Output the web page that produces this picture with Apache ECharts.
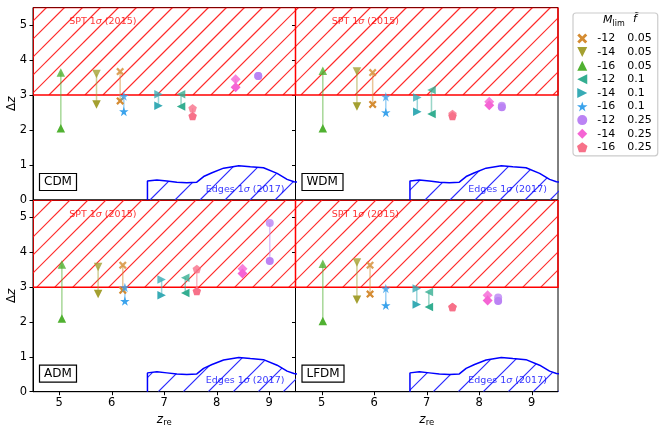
<!doctype html>
<html lang="en">
  <head>
    <meta charset="utf-8">
    <title>Delta z vs z_re</title>
    <script src="https://cdn.jsdelivr.net/npm/echarts@6/dist/echarts.min.js"></script>
    <style>
      html, body { margin: 0; padding: 0; background: #fff; }
      #chart { width: 664px; height: 429px; }
    </style>
  </head>
  <body>
    <div id="chart"></div>
  <script>

    // ---- data ----
    var panelNames = ['CDM', 'WDM', 'ADM', 'LFDM'];
    var mLim = ['-12', '-14', '-16', '-12', '-14', '-16', '-12', '-14', '-16'];
    var fTilde = ['0.05', '0.05', '0.05', '0.1', '0.1', '0.1', '0.25', '0.25', '0.25'];

    // z_re of each model, then the two Delta z values (upper / lower end)
    var zreCDM  = [6.16, 5.71, 5.03, 7.32, 6.89, 6.23, 8.79, 8.36, 7.54];
    var dzHiCDM = [3.67, 3.60, 3.64, 3.02, 3.02, 2.97, 3.54, 3.45, 2.62];
    var dzLoCDM = [2.83, 2.73, 2.05, 2.67, 2.69, 2.53, 3.54, 3.22, 2.40];

    var zreWDM  = [5.97, 5.67, 5.02, 7.09, 6.82, 6.22, 8.43, 8.19, 7.49];
    var dzHiWDM = [3.64, 3.67, 3.69, 3.14, 2.93, 2.95, 2.69, 2.81, 2.46];
    var dzLoWDM = [2.73, 2.67, 2.05, 2.46, 2.52, 2.50, 2.65, 2.71, 2.40];

    var zreADM  = [6.21, 5.74, 5.05, 7.40, 6.95, 6.25, 9.01, 8.49, 7.62];
    var dzHiADM = [3.63, 3.58, 3.65, 3.27, 3.22, 2.99, 4.84, 3.53, 3.52];
    var dzLoADM = [2.91, 2.80, 2.10, 2.83, 2.77, 2.60, 3.75, 3.39, 2.89];

    var zreLFDM  = [5.92, 5.67, 5.02, 7.04, 6.81, 6.22, 8.36, 8.16, 7.49];
    var dzHiLFDM = [3.63, 3.71, 3.67, 2.86, 2.96, 2.96, 2.70, 2.77, 2.43];
    var dzLoLFDM = [2.80, 2.64, 2.03, 2.43, 2.50, 2.48, 2.60, 2.62, 2.43];

    var zreAll  = [zreCDM, zreWDM, zreADM, zreLFDM];
    var dzHiAll = [dzHiCDM, dzHiWDM, dzHiADM, dzHiLFDM];
    var dzLoAll = [dzLoCDM, dzLoWDM, dzLoADM, dzLoLFDM];

    // SPT 1 sigma band (Delta z > 3)
    var sptZre = [4.5, 9.5];
    var sptDz = [3, 5.5];
    // EDGES 1 sigma contour
    var edgesZre = [6.68, 6.68, 6.86, 7.05, 7.24, 7.43, 7.62, 7.75, 7.91, 8.13, 8.42, 8.64, 8.89, 9.15, 9.34, 9.47, 9.6, 9.6];
    var edgesDz  = [0.00, 0.54, 0.57, 0.54, 0.51, 0.49, 0.51, 0.67, 0.78, 0.91, 0.98, 0.95, 0.92, 0.76, 0.59, 0.52, 0.50, 0.00];

    var xTicks = [5, 6, 7, 8, 9];
    var yTicks = [0, 1, 2, 3, 4, 5];

    // ---- styles ----
    var colors = ['#d58c32', '#a4a031', '#50b131', '#34ae91', '#37abb5', '#3ba3ec', '#bb83f4', '#f564d4', '#f77189'];
    var symbols = [
      'path://M2,0 L5,3 L8,0 L10,2 L7,5 L10,8 L8,10 L5,7 L2,10 L0,8 L3,5 L0,2 Z',
      'path://M0,0 L10,0 L5,10 Z',
      'path://M5,0 L10,10 L0,10 Z',
      'path://M0,5 L10,0 L10,10 Z',
      'path://M0,0 L10,5 L0,10 Z',
      'path://M5,0 L6.12,3.46 L9.76,3.45 L6.81,5.59 L7.94,9.05 L5,6.9 L2.06,9.05 L3.19,5.59 L0.24,3.45 L3.88,3.46 Z',
      'circle',
      'path://M5,0 L10,5 L5,10 L0,5 Z',
      'path://M5,0 L10,3.63 L8.09,9.51 L1.91,9.51 L0,3.63 Z'
    ];
    var symbolSizes = [8, 8.5, 8.5, 8.5, 8.5, 9.5, 8, 10, 8.5];
    var FONT = 'DejaVu Sans';

    // diagonal '/' hatch lines covering a pixel box, meant to be clipped
    // (width kept just above 1px: hairlines lose their colour in this renderer)
    function hatchLines(x0, y0, x1, y1, step, color) {
      var out = [];
      var c = Math.ceil((x0 + y0) / step) * step;
      for (; c <= x1 + y1; c += step) {
        out.push({
          type: 'line',
          shape: { x1: c - y1, y1: y1, x2: c - y0, y2: y0 },
          style: { stroke: color, lineWidth: 1.15 }
        });
      }
      return out;
    }

    var gridPos = [
      { left: 33, top: 7.5, width: 262.5, height: 192.5 },
      { left: 295.5, top: 7.5, width: 262.5, height: 192.5 },
      { left: 33, top: 200, width: 262.5, height: 191.7 },
      { left: 295.5, top: 200, width: 262.5, height: 191.7 }
    ];

    var grids = [], xAxes = [], yAxes = [], series = [], titles = [], yNames = [];

    gridPos.forEach(function (g, i) {
      grids.push(Object.assign({ show: true, borderColor: '#000', borderWidth: 1, backgroundColor: '#fff' }, g));
      var bottomRow = i >= 2, leftCol = (i % 2) === 0;
      xAxes.push({
        type: 'value', gridIndex: i, min: 4.5, max: 9.5,
        axisLine: { show: true, onZero: false, lineStyle: { color: '#000', width: 1 } },
        axisTick: { show: bottomRow, length: 3.5, customValues: xTicks, lineStyle: { color: '#000' } },
        axisLabel: { show: bottomRow, customValues: xTicks, margin: 5, color: '#000', fontSize: 11.5, fontFamily: FONT },
        splitLine: { show: false },
        name: bottomRow ? '{i|z}{s|re}' : '',
        nameLocation: 'middle', nameGap: 22,
        nameTextStyle: {
          color: '#000', fontFamily: FONT,
          rich: {
            i: { fontSize: 12, fontStyle: 'italic', fontFamily: FONT, color: '#000', verticalAlign: 'top' },
            s: { fontSize: 8.5, fontFamily: FONT, color: '#000', verticalAlign: 'top', padding: [5, 0, 0, 0] }
          }
        }
      });
      yAxes.push({
        type: 'value', gridIndex: i, min: 0, max: 5.5,
        axisLine: { show: true, onZero: false, lineStyle: { color: '#000', width: 1 } },
        axisTick: { show: true, length: 3.5, customValues: yTicks, lineStyle: { color: '#000' } },
        axisLabel: { show: leftCol, customValues: yTicks, margin: 6, color: '#000', fontSize: 11.5, fontFamily: FONT },
        splitLine: { show: false }
      });
      if (leftCol) {
        // y axis title, placed by hand beside the tick labels
        yNames.push({
          type: 'text', x: 12, y: g.top + g.height / 2, rotation: Math.PI / 2, z: 100,
          style: {
            text: '\u0394{i|z}', fontSize: 12, fontFamily: FONT, fill: '#000',
            align: 'center', verticalAlign: 'middle',
            rich: { i: { fontSize: 12, fontStyle: 'italic', fontFamily: FONT, fill: '#000' } }
          }
        });
      }

      // SPT band
      series.push({
        type: 'custom', xAxisIndex: i, yAxisIndex: i, silent: true, clip: true, z: 1,
        data: [[sptZre[0], sptZre[1], sptDz[0], sptDz[1]]],
        encode: { x: [0, 1], y: [2, 3] },
        renderItem: function (params, api) {
          var p0 = api.coord([api.value(0), api.value(3)]);
          var p1 = api.coord([api.value(1), api.value(2)]);
          var box = { x: p0[0], y: p0[1], width: p1[0] - p0[0], height: p1[1] - p0[1] };
          return {
            type: 'group',
            children: [
              {
                type: 'group',
                clipPath: { type: 'rect', shape: box },
                children: hatchLines(p0[0], p0[1], p1[0], p1[1], 18, '#ff2a2a')
              },
              { type: 'rect', shape: box, style: { fill: 'none', stroke: '#ff0000', lineWidth: 1.5 } }
            ]
          };
        }
      });
      // EDGES contour hatch
      series.push({
        type: 'custom', xAxisIndex: i, yAxisIndex: i, silent: true, clip: true, z: 1,
        data: [[edgesZre[0], edgesDz[0]]],
        encode: { x: 0, y: 1 },
        renderItem: function (params, api) {
          var pts = edgesZre.map(function (x, k) { return api.coord([x, edgesDz[k]]); });
          var xs = pts.map(function (p) { return p[0]; });
          var ys = pts.map(function (p) { return p[1]; });
          return {
            type: 'group',
            clipPath: { type: 'polygon', shape: { points: pts } },
            children: hatchLines(Math.min.apply(null, xs), Math.min.apply(null, ys),
                                 Math.max.apply(null, xs), Math.max.apply(null, ys), 25, '#2a2aff')
          };
        }
      });
      // EDGES contour outline
      series.push({
        type: 'line', xAxisIndex: i, yAxisIndex: i, silent: true, z: 2,
        symbol: 'none', smooth: false,
        data: edgesZre.map(function (x, k) { return [x, edgesDz[k]]; }),
        lineStyle: { color: '#0000ff', width: 1.5 }
      });
      // region labels
      series.push({
        type: 'scatter', xAxisIndex: i, yAxisIndex: i, silent: true, symbolSize: 0, z: 3,
        data: [[5.83, 5.09, 'SPT 1{s|\u03c3} (2015)', '#ff0000'], [8.54, 0.31, 'Edges 1{s|\u03c3} (2017)', '#0000ff']],
        label: {
          show: true, position: 'inside', fontSize: 9.5, fontFamily: FONT,
          formatter: function (p) { return p.data[2]; },
          color: 'inherit',
          rich: { s: { fontStyle: 'italic', fontSize: 9.5, fontFamily: FONT } }
        },
        itemStyle: { color: function (p) { return p.data[3]; } }
      });

      // model points
      for (var k = 0; k < mLim.length; k++) {
        var x = zreAll[i][k];
        series.push({
          name: mLim[k] + ' ' + fTilde[k],
          type: 'line', xAxisIndex: i, yAxisIndex: i, z: 4,
          symbol: symbols[k], symbolSize: symbolSizes[k], showSymbol: true,
          itemStyle: { color: colors[k] },
          lineStyle: { color: colors[k], width: 1.5, opacity: 0.5 },
          data: [
            { value: [x, dzHiAll[i][k]], itemStyle: { opacity: 0.8 } },
            { value: [x, dzLoAll[i][k]] }
          ]
        });
      }

      titles.push({
        text: panelNames[i],
        left: g.left + 6, top: g.top + g.height - 27,
        padding: [3, 5, 3, 5],
        borderColor: '#000', borderWidth: 1.2, backgroundColor: '#fff',
        textStyle: { fontSize: 12, fontWeight: 'normal', color: '#000', fontFamily: FONT }
      });
    });

    var legendNames = mLim.map(function (m, k) { return m + ' ' + fTilde[k]; });

    var chart = echarts.init(document.getElementById('chart'), null, { renderer: 'canvas' });
    var option = {
      animation: false,
      title: titles,
      grid: grids,
      xAxis: xAxes,
      yAxis: yAxes,
      legend: {
        orient: 'vertical', left: 573, top: 13,
        selectedMode: false,
        data: legendNames.map(function (n, k) { return { name: n, icon: symbols[k] }; }),
        itemWidth: 20, itemHeight: 10, itemGap: 2.6,
        padding: [20, 6, 3, 4],
        borderColor: '#cccccc', borderWidth: 1.2, borderRadius: 3, backgroundColor: '#fff',
        itemStyle: { borderWidth: 0 },
        textStyle: {
          fontSize: 11, color: '#000', fontFamily: FONT, lineHeight: 10,
          rich: {
            a: { width: 30, fontSize: 11, lineHeight: 10, fontFamily: FONT, color: '#000' },
            b: { fontSize: 11, lineHeight: 10, fontFamily: FONT, color: '#000' }
          }
        },
        formatter: function (n) {
          var parts = n.split(' ');
          return '{a|' + parts[0] + '}{b|' + parts[1] + '}';
        }
      },
      graphic: yNames.concat([
        {
          type: 'text', left: 603, top: 15, z: 100,
          style: {
            text: '{i|M}{s|lim}',
            rich: {
              i: { fontSize: 11, fontStyle: 'italic', fontFamily: FONT, fill: '#000', verticalAlign: 'top' },
              s: { fontSize: 8, fontFamily: FONT, fill: '#000', verticalAlign: 'top', padding: [5, 0, 0, 0] }
            }
          }
        },
        {
          type: 'text', left: 633, top: 14, z: 100,
          style: { text: 'f\u0303', fontSize: 11, fontStyle: 'italic', fontFamily: FONT, fill: '#000' }
        }
      ]),
      series: series
    };
    chart.setOption(option);
    window.addEventListener('resize', chart.resize);

  </script>
  </body>
</html>
